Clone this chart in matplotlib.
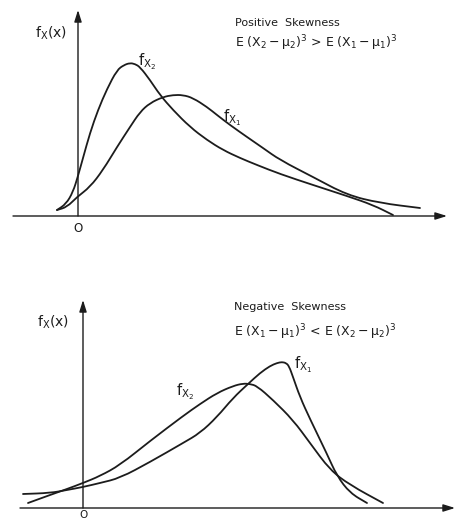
import matplotlib.pyplot as plt
from matplotlib.path import Path
from matplotlib.patches import PathPatch

plt.rcParams['mathtext.default'] = 'regular'
plt.rcParams['font.family'] = ['DejaVu Sans']

ink = '#1c1c1c'

# upper panel: positive skewness (x measured from the origin, y height above the x axis)
pos_x2_x = [-21, -12, -5, 0, 5, 12, 20, 29, 39, 46, 52, 57, 62, 72, 82, 95, 112, 129, 145, 162, 179,
            202, 235, 269, 295, 315]
pos_x2_y = [6, 12, 24, 40, 58, 83, 106, 127, 146, 151, 153, 152, 149, 136, 121, 106, 89, 76, 66, 58, 51,
            42, 31, 20, 11, 1]
pos_x1_x = [-21, -11, -1, 12, 25, 39, 52, 62, 72, 85, 95, 105, 115, 129, 139, 152, 169, 185, 202,
            235, 269, 302, 342]
pos_x1_y = [6, 9, 19, 29, 46, 69, 89, 104, 113, 119, 121, 121, 118, 109, 101, 91, 79, 68, 56,
            39, 21, 13, 8]

# lower panel: negative skewness
neg_x2_x = [-55, -33, -16, 0, 17, 37, 67, 100, 117, 134, 150, 160, 167, 174, 190, 210, 227, 247, 267, 300]
neg_x2_y = [5, 13, 19, 25, 32, 43, 67, 92, 104, 115, 122, 124.5, 124, 122, 108, 88, 65, 38, 23, 5]
neg_x1_x = [-60, -33, -16, 0, 17, 37, 67, 100, 117, 134, 150, 165, 177, 187, 194, 199, 203,
            206, 210, 217, 227, 244, 254, 267, 284]
neg_x1_y = [14, 15, 18, 21, 25, 30, 46, 65, 75, 91, 110, 124, 135, 142, 145, 146, 145,
            142, 131, 111, 89, 54, 32, 15, 5]


def draw_axes(ax, x_left, x_right, y_top):
    arrow = dict(arrowstyle='-|>,head_length=0.7,head_width=0.22', lw=1.0,
                 color=ink, shrinkA=0, shrinkB=0)
    ax.annotate('', xy=(x_right, 0), xytext=(x_left, 0), arrowprops=arrow)
    ax.annotate('', xy=(0, y_top), xytext=(0, 0), arrowprops=arrow)


def curve(ax, x, y):
    # smooth quadratic path with the read points as control points
    pts = list(zip(x, y))
    mid = lambda a, b: ((a[0] + b[0]) / 2, (a[1] + b[1]) / 2)
    verts = [pts[0], mid(pts[0], pts[1])]
    codes = [Path.MOVETO, Path.LINETO]
    for i in range(1, len(pts) - 1):
        verts += [pts[i], mid(pts[i], pts[i + 1])]
        codes += [Path.CURVE3, Path.CURVE3]
    verts.append(pts[-1])
    codes.append(Path.LINETO)
    ax.add_patch(PathPatch(Path(verts, codes), fill=False, edgecolor=ink, lw=1.3,
                           capstyle='round', joinstyle='round'))


fig = plt.figure(figsize=(4.59, 5.19), dpi=100)

ax1 = fig.add_axes([0, 269 / 519, 1, 250 / 519])
ax1.set_xlim(-78, 381)
ax1.set_ylim(-34, 216)
ax1.axis('off')
draw_axes(ax1, -65, 369, 206)
curve(ax1, pos_x2_x, pos_x2_y)
curve(ax1, pos_x1_x, pos_x1_y)
ax1.text(-43, 183, '$f_X(x)$', fontsize=10, color=ink, va='center')
ax1.text(157, 193, 'Positive  Skewness', fontsize=8, color=ink, va='center')
ax1.text(157, 173, r'E $(X_2 - \mu_2)^3$ > E $(X_1 - \mu_1)^3$', fontsize=9, color=ink, va='center')
ax1.text(60, 154, '$f_{X_2}$', fontsize=10.5, color=ink, va='center')
ax1.text(145, 98, '$f_{X_1}$', fontsize=10.5, color=ink, va='center')
ax1.text(0, -12, 'O', fontsize=8.5, color=ink, ha='center', va='center')

ax2 = fig.add_axes([0, 0, 1, 269 / 519])
ax2.set_xlim(-83, 376)
ax2.set_ylim(-11, 258)
ax2.axis('off')
draw_axes(ax2, -63, 372, 208)
curve(ax2, neg_x2_x, neg_x2_y)
curve(ax2, neg_x1_x, neg_x1_y)
ax2.text(-46, 186, '$f_X(x)$', fontsize=10, color=ink, va='center')
ax2.text(151, 201, 'Negative  Skewness', fontsize=8, color=ink, va='center')
ax2.text(151, 176, r'E $(X_1 - \mu_1)^3$ < E $(X_2 - \mu_2)^3$', fontsize=9, color=ink, va='center')
ax2.text(211, 143, '$f_{X_1}$', fontsize=10.5, color=ink, va='center')
ax2.text(93, 116, '$f_{X_2}$', fontsize=10.5, color=ink, va='center')
ax2.text(0, -2, 'O', fontsize=7.5, color=ink, ha='center', va='top')

fig.savefig('out.png', dpi=100)
